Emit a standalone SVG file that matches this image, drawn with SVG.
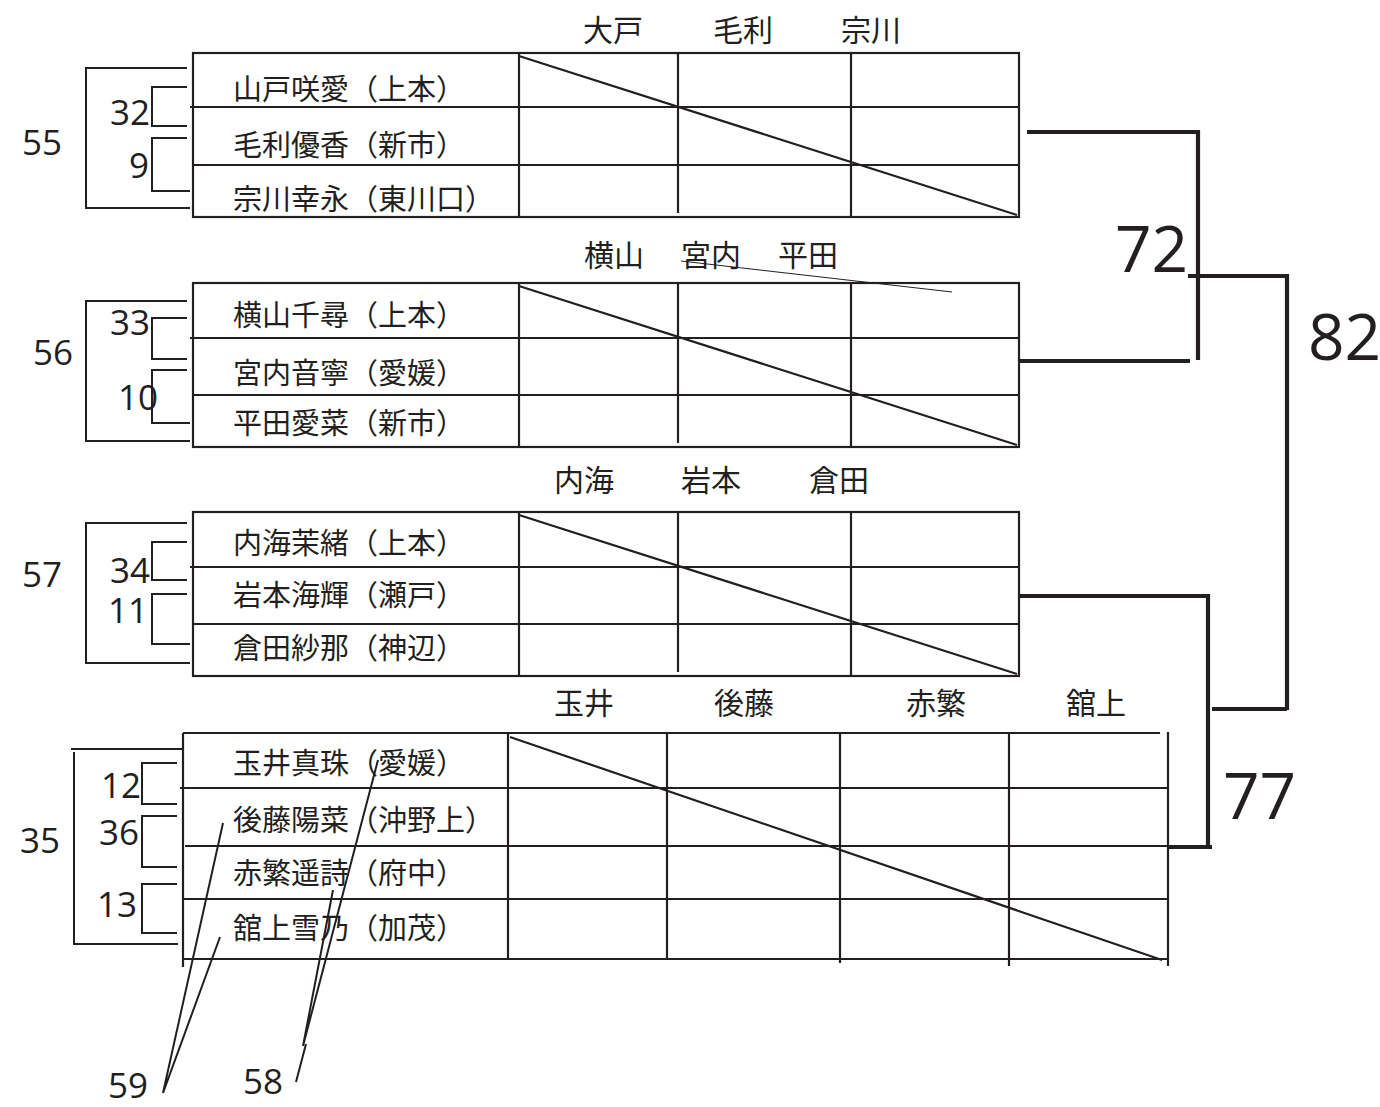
<svg xmlns="http://www.w3.org/2000/svg" width="1380" height="1107" viewBox="0 0 1380 1107">
<style>
.bg{fill:#fff}
.t{stroke:#231f20;stroke-width:2.2;fill:none}
.b{stroke:#231f20;stroke-width:2;fill:none}
.k{stroke:#231f20;stroke-width:4.2;fill:none}
.p{stroke:#231f20;stroke-width:2;fill:none}
.thin{stroke:#231f20;stroke-width:1;fill:none}
.nm{font-family:"Noto Sans CJK JP","Noto Sans CJK SC",sans-serif;font-size:29px;fill:#231f20}
.hd{font-family:"Noto Sans CJK JP","Noto Sans CJK SC",sans-serif;font-size:30px;fill:#231f20;text-anchor:middle}
.n{font-family:"Open Sans","Liberation Sans",sans-serif;font-size:35px;fill:#231f20}
.nr{font-family:"Open Sans","Liberation Sans",sans-serif;font-size:35px;fill:#231f20;text-anchor:end}
.big{font-family:"Open Sans","Liberation Sans",sans-serif;font-size:64px;fill:#231f20}
</style>
<rect class="bg" x="0" y="0" width="1380" height="1107"/>

<g id="block1">
  <text class="hd" x="613" y="41">大戸</text>
  <text class="hd" x="743" y="41">毛利</text>
  <text class="hd" x="871" y="41">宗川</text>
  <rect class="t" x="193" y="53" width="826" height="164"/>
  <path class="t" d="M190 107H1019M193 165H1019M519 53V217M678 53V213M851 53V217M519 56L1017 215"/>
  <text class="nm" x="233" y="100">山戸咲愛（上本）</text>
  <text class="nm" x="233" y="156">毛利優香（新市）</text>
  <text class="nm" x="233" y="210">宗川幸永（東川口）</text>
  <path class="b" d="M187 68H86V208H190M187 87H152V126H187M187 138H152V191H190"/>
  <text class="n" x="22" y="155">55</text>
  <text class="nr" x="150" y="125">32</text>
  <text class="nr" x="149" y="178">9</text>
</g>

<g id="block2">
  <text class="hd" x="614" y="266">横山</text>
  <text class="hd" x="711" y="266">宮内</text>
  <text class="hd" x="808" y="266">平田</text>
  <path class="thin" d="M681 261L952 292"/>
  <rect class="t" x="193" y="283" width="826" height="164"/>
  <path class="t" d="M190 338H1019M193 395H1019M519 283V447M678 283V443M851 283V447M519 286L1017 445"/>
  <text class="nm" x="233" y="326">横山千尋（上本）</text>
  <text class="nm" x="233" y="384">宮内音寧（愛媛）</text>
  <text class="nm" x="233" y="434">平田愛菜（新市）</text>
  <path class="b" d="M187 301H86V441H190M187 318H152V359H187M187 370H152V423H190"/>
  <text class="n" x="33" y="365">56</text>
  <text class="n" x="110" y="335">33</text>
  <text class="n" x="118" y="410">10</text>
</g>

<g id="block3">
  <text class="hd" x="584" y="491">内海</text>
  <text class="hd" x="711" y="491">岩本</text>
  <text class="hd" x="839" y="491">倉田</text>
  <rect class="t" x="193" y="512" width="826" height="164"/>
  <path class="t" d="M190 567H1019M193 624H1019M519 512V676M678 512V672M851 512V676M519 515L1017 674"/>
  <text class="nm" x="233" y="554">内海茉緒（上本）</text>
  <text class="nm" x="233" y="606">岩本海輝（瀬戸）</text>
  <text class="nm" x="233" y="659">倉田紗那（神辺）</text>
  <path class="b" d="M187 523H86V663H190M187 542H152V580H187M187 594H152V644H190"/>
  <text class="n" x="22" y="587">57</text>
  <text class="nr" x="150" y="583">34</text>
  <text class="nr" x="148" y="623">11</text>
</g>

<g id="block4">
  <text class="hd" x="584" y="714">玉井</text>
  <text class="hd" x="744" y="714">後藤</text>
  <text class="hd" x="936" y="714">赤繁</text>
  <text class="hd" x="1096" y="714">舘上</text>
  <path class="t" d="M183 733H1160M1168 732V966M180 788H1168M185 846H1168M183 899H1168M183 959H1168M183 733V967M508 733V959M667 733V959M840 733V963M1009 733V966M510 737L1162 960"/>
  <text class="nm" x="233" y="774">玉井真珠（愛媛）</text>
  <text class="nm" x="233" y="831">後藤陽菜（沖野上）</text>
  <text class="nm" x="233" y="884">赤繁遥詩（府中）</text>
  <text class="nm" x="233" y="939">舘上雪乃（加茂）</text>
  <path class="b" d="M71 749H183M74 752V944H178M177 763H142V804H177M177 816H142V867H177M177 884H142V933H177"/>
  <text class="n" x="20" y="853">35</text>
  <text class="nr" x="141" y="798">12</text>
  <text class="nr" x="139" y="845">36</text>
  <text class="nr" x="137" y="917">13</text>
</g>

<g id="callouts">
  <path class="p" d="M378 760L303 1046M333 890L303 1046M306 1044L296 1082"/>
  <path class="p" d="M223 823L163 1093M220 937L163 1093"/>
  <text class="n" x="243" y="1094">58</text>
  <text class="n" x="108" y="1098">59</text>
</g>

<g id="connectors">
  <path class="k" d="M1027 132H1198V360M1019 361H1190M1188 276H1287V710M1019 596H1208V846M1168 847H1212M1212 709H1287"/>
  <text class="big" x="1115" y="272">72</text>
  <text class="big" x="1308" y="360">82</text>
  <text class="big" x="1223" y="819">77</text>
</g>
</svg>
